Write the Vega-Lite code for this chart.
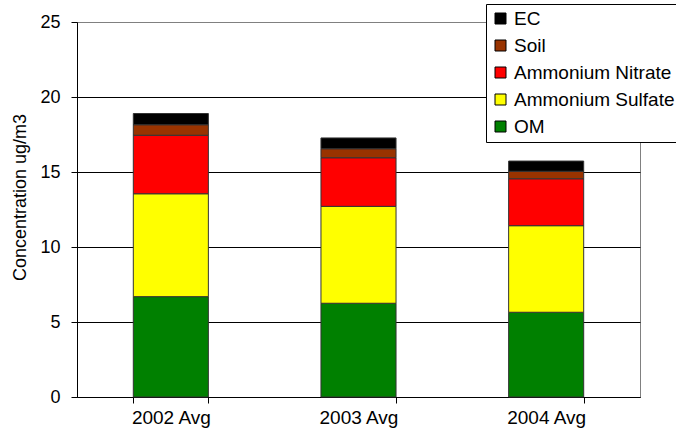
{
  "$schema": "https://vega.github.io/schema/vega-lite/v6.json",
  "width": 563,
  "height": 375,
  "autosize": {"type": "none"},
  "padding": {"left": 77, "top": 22, "right": 36, "bottom": 45},
  "background": "white",
  "config": {
    "font": "Liberation Sans",
    "view": {"stroke": "#808080", "strokeWidth": 1}
  },
  "data": {
    "values": [
      {"year": "2002 Avg", "species": "OM", "k": 1, "value": 6.69},
      {"year": "2002 Avg", "species": "Ammonium Sulfate", "k": 2, "value": 6.86},
      {"year": "2002 Avg", "species": "Ammonium Nitrate", "k": 3, "value": 3.9},
      {"year": "2002 Avg", "species": "Soil", "k": 4, "value": 0.7},
      {"year": "2002 Avg", "species": "EC", "k": 5, "value": 0.75},
      {"year": "2003 Avg", "species": "OM", "k": 1, "value": 6.25},
      {"year": "2003 Avg", "species": "Ammonium Sulfate", "k": 2, "value": 6.46},
      {"year": "2003 Avg", "species": "Ammonium Nitrate", "k": 3, "value": 3.24},
      {"year": "2003 Avg", "species": "Soil", "k": 4, "value": 0.6},
      {"year": "2003 Avg", "species": "EC", "k": 5, "value": 0.72},
      {"year": "2004 Avg", "species": "OM", "k": 1, "value": 5.65},
      {"year": "2004 Avg", "species": "Ammonium Sulfate", "k": 2, "value": 5.77},
      {"year": "2004 Avg", "species": "Ammonium Nitrate", "k": 3, "value": 3.13},
      {"year": "2004 Avg", "species": "Soil", "k": 4, "value": 0.5},
      {"year": "2004 Avg", "species": "EC", "k": 5, "value": 0.68}
    ]
  },
  "mark": {"type": "bar", "stroke": "#333333", "strokeWidth": 1},
  "encoding": {
    "x": {
      "field": "year",
      "type": "nominal",
      "scale": {"paddingInner": 0.6, "paddingOuter": 0.3},
      "axis": {
        "title": null,
        "labelAngle": 0,
        "labelFontSize": 19,
        "labelColor": "black",
        "labelPadding": 5,
        "tickBand": "extent",
        "tickSize": 6,
        "tickColor": "black",
        "domainColor": "black",
        "grid": false
      }
    },
    "y": {
      "field": "value",
      "type": "quantitative",
      "stack": "zero",
      "scale": {"domain": [0, 25], "nice": false},
      "axis": {
        "title": "Concentration ug/m3",
        "titleFontSize": 18,
        "titleFontWeight": "normal",
        "titleColor": "black",
        "titlePadding": 10,
        "titleY": 175,
        "values": [0, 5, 10, 15, 20, 25],
        "labelFontSize": 18,
        "labelColor": "black",
        "labelPadding": 11,
        "tickSize": 6,
        "tickColor": "black",
        "domainColor": "black",
        "grid": true,
        "gridColor": {"condition": {"test": "datum.value === 25", "value": "#808080"}, "value": "black"},
        "gridOpacity": 1
      }
    },
    "color": {
      "field": "species",
      "type": "nominal",
      "scale": {
        "domain": ["EC", "Soil", "Ammonium Nitrate", "Ammonium Sulfate", "OM"],
        "range": ["#000000", "#993300", "#FF0000", "#FFFF00", "#008000"]
      },
      "legend": {
        "title": null,
        "orient": "none",
        "legendX": 409,
        "legendY": -18,
        "direction": "vertical",
        "fillColor": "white",
        "strokeColor": "black",
        "padding": 5,
        "symbolType": "square",
        "symbolSize": 121,
        "symbolStrokeColor": "black",
        "symbolStrokeWidth": 1,
        "symbolOpacity": 1,
        "labelFontSize": 19,
        "labelColor": "black",
        "labelOffset": 4,
        "rowPadding": 7,
        "labelLimit": 300
      }
    },
    "order": {"field": "k", "type": "quantitative", "sort": "ascending"}
  }
}
